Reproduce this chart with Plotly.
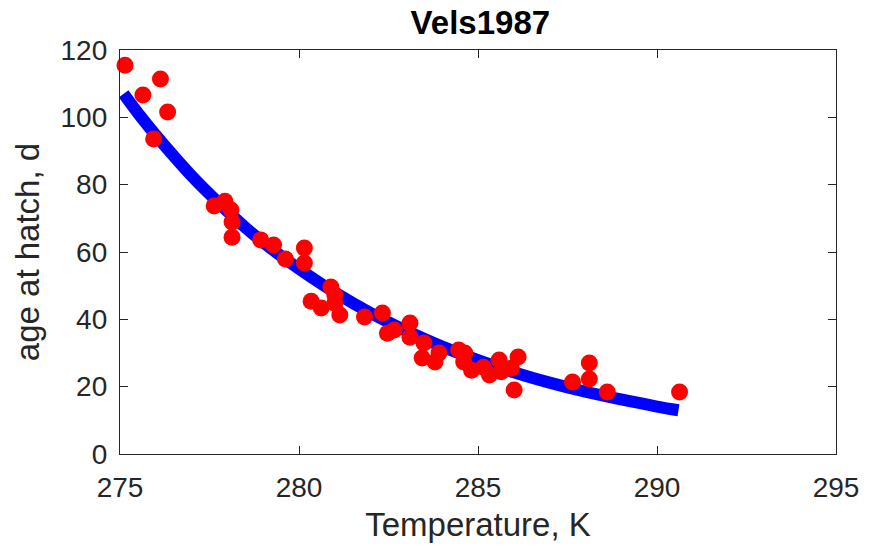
import plotly.graph_objects as go

# observed data: temperature (K) and age at hatch (d)
temp_obs = [275.14, 275.64, 276.13, 276.33, 275.94, 277.63, 277.93, 278.10, 278.13, 278.13,
            278.93, 279.29, 279.62, 280.15, 280.15, 280.34, 280.62, 280.89, 281.00, 281.00,
            281.14, 281.83, 282.33, 282.47, 282.66, 283.10, 283.10, 283.49, 283.44, 283.91,
            283.80, 284.46, 284.63, 284.60, 284.82, 285.15, 285.32, 285.59, 285.65, 285.93,
            286.12, 286.01, 287.64, 288.11, 288.11, 288.61, 290.63]
age_obs = [115.5, 106.6, 111.4, 101.6, 93.6, 73.7, 75.1, 72.5, 68.9, 64.4,
           63.6, 62.1, 57.9, 61.2, 56.7, 45.4, 43.4, 49.6, 47.2, 44.8,
           41.3, 40.7, 41.9, 35.9, 36.8, 38.9, 34.7, 33.0, 28.5, 30.0,
           27.3, 30.9, 30.0, 27.3, 24.9, 25.8, 23.5, 27.9, 24.4, 25.5,
           28.8, 19.0, 21.4, 27.0, 22.3, 18.4, 18.4]

# model curve
temp_fit = [275.1, 275.5, 276, 276.5, 277, 277.5, 278, 278.5, 279, 279.5, 280, 281, 282, 283,
            284, 285, 286, 287, 288, 289, 290, 290.6]
age_fit = [107.0, 101.3, 94.7, 88.5, 82.6, 77.2, 72.1, 67.3, 62.9, 58.8, 55.0, 48.0, 41.9, 36.6,
           31.9, 27.9, 24.3, 21.2, 18.5, 16.2, 14.1, 13.0]

x_ticks = [275, 280, 285, 290, 295]
y_ticks = [0, 20, 40, 60, 80, 100, 120]

FONT = "Liberation Sans, Arial, Helvetica"
fig = go.Figure()
fig.add_trace(go.Scatter(x=temp_fit, y=age_fit, mode="lines",
                         line=dict(color="#0000FF", width=12, shape="spline"), showlegend=False))
fig.add_trace(go.Scatter(x=temp_obs, y=age_obs, mode="markers",
                         marker=dict(color="#FF0000", size=17, line=dict(width=0)),
                         cliponaxis=False, showlegend=False))

axis_common = dict(showgrid=False, zeroline=False, showline=True, linecolor="#262626",
                   linewidth=1.3, mirror="ticks", ticks="inside", ticklen=8,
                   tickcolor="#262626", tickwidth=1,
                   tickfont=dict(family=FONT, size=28, color="#262626"))

fig.update_layout(
    width=871, height=552,
    margin=dict(l=120, r=28, t=50, b=98),
    paper_bgcolor="white", plot_bgcolor="white",
    title=dict(text="<b>Vels1987</b>", x=0.5515, xanchor="center", y=0.96, yanchor="middle",
               font=dict(family=FONT, size=33, color="black")),
    xaxis=dict(range=[275, 295], tickvals=x_ticks, ticklabelstandoff=8,
               title=dict(text="Temperature, K", standoff=11,
                          font=dict(family=FONT, size=33, color="#262626")),
               **axis_common),
    yaxis=dict(range=[0, 120], tickvals=y_ticks, ticklabelstandoff=6,
               title=dict(text="age at hatch, d", standoff=10,
                          font=dict(family=FONT, size=33, color="#262626")),
               **axis_common),
)

fig.write_html("out.html")
